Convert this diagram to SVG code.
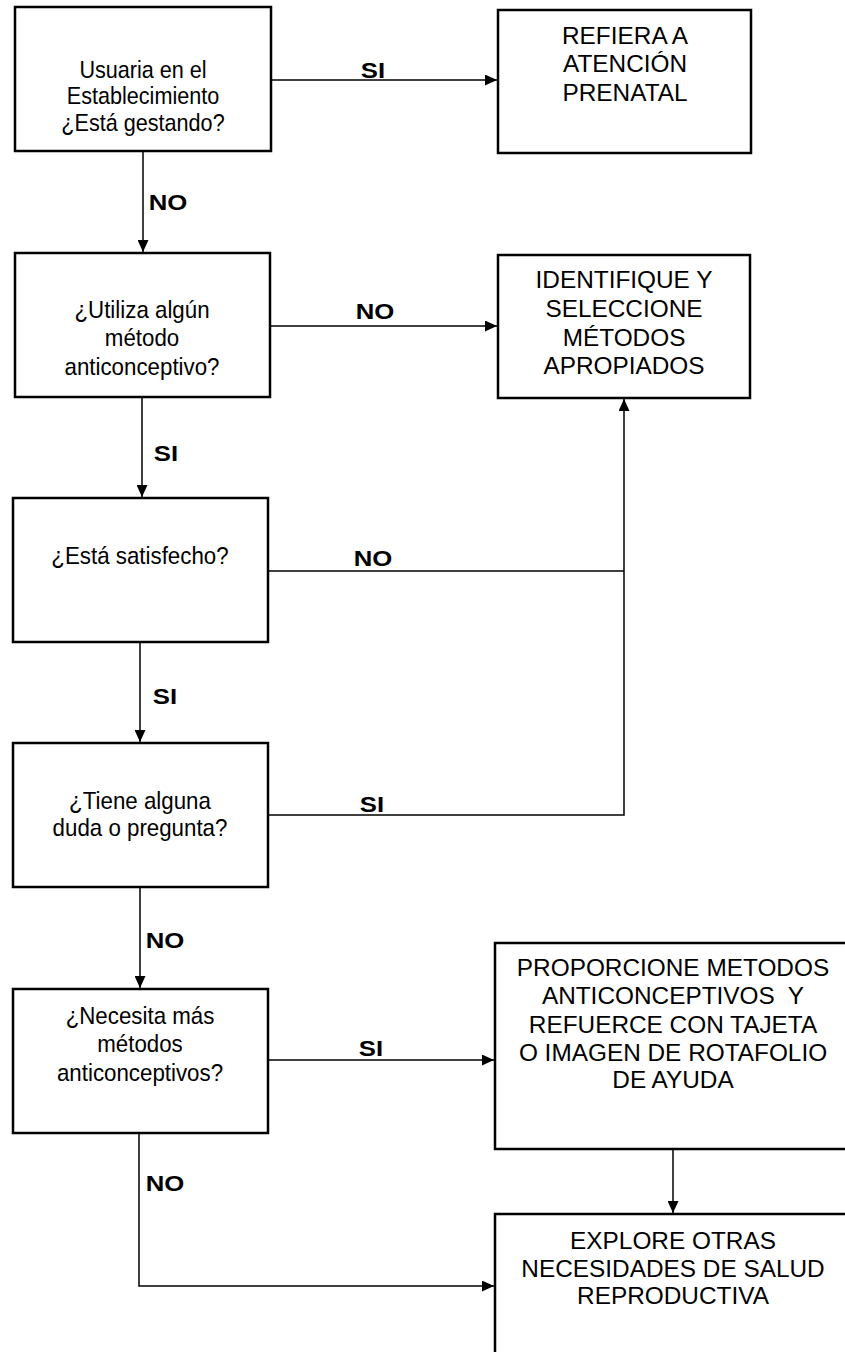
<svg xmlns="http://www.w3.org/2000/svg" width="845" height="1352" viewBox="0 0 845 1352">
<style>
.box{fill:#fff;stroke:#000;stroke-width:2.5}
.ln{fill:none;stroke:#000;stroke-width:1.5}
.t{font-family:"Liberation Sans",Arial,sans-serif;font-size:24px;fill:#000;text-anchor:middle}
.u{font-family:"Liberation Sans",Arial,sans-serif;font-size:23px;fill:#000;text-anchor:middle}
.lb{font-family:"Liberation Sans",Arial,sans-serif;font-size:23px;font-weight:bold;fill:#000;text-anchor:middle}
</style>
<defs>
<marker id="ah" markerUnits="userSpaceOnUse" markerWidth="13" markerHeight="11" refX="12" refY="5.5" orient="auto">
<path d="M0,0 L12,5.5 L0,11 z" fill="#000"/>
</marker>
</defs>
<rect width="845" height="1352" fill="#fff"/>

<g id="connectors">
<line class="ln" x1="271" y1="80" x2="497" y2="80" marker-end="url(#ah)"/>
<line class="ln" x1="143" y1="151" x2="143" y2="252" marker-end="url(#ah)"/>
<line class="ln" x1="271" y1="326" x2="497" y2="326" marker-end="url(#ah)"/>
<line class="ln" x1="142" y1="397" x2="142" y2="497" marker-end="url(#ah)"/>
<polyline class="ln" points="268,571 624,571"/>
<polyline class="ln" points="268,815 624,815 624,399" marker-end="url(#ah)"/>
<line class="ln" x1="140" y1="642" x2="140" y2="742" marker-end="url(#ah)"/>
<line class="ln" x1="140" y1="887" x2="140" y2="988" marker-end="url(#ah)"/>
<line class="ln" x1="268" y1="1060" x2="494" y2="1060" marker-end="url(#ah)"/>
<line class="ln" x1="673" y1="1149" x2="673" y2="1213" marker-end="url(#ah)"/>
<polyline class="ln" points="139,1133 139,1286 494,1286" marker-end="url(#ah)"/>
<text class="lb" transform="translate(373,0) scale(1.12,1)" x="0" y="78">SI</text>
<text class="lb" transform="translate(168,0) scale(1.12,1)" x="0" y="210">NO</text>
<text class="lb" transform="translate(375,0) scale(1.12,1)" x="0" y="319">NO</text>
<text class="lb" transform="translate(166,0) scale(1.12,1)" x="0" y="461">SI</text>
<text class="lb" transform="translate(373,0) scale(1.12,1)" x="0" y="566">NO</text>
<text class="lb" transform="translate(165,0) scale(1.12,1)" x="0" y="704">SI</text>
<text class="lb" transform="translate(372,0) scale(1.12,1)" x="0" y="812">SI</text>
<text class="lb" transform="translate(165,0) scale(1.12,1)" x="0" y="948">NO</text>
<text class="lb" transform="translate(371,0) scale(1.12,1)" x="0" y="1056">SI</text>
<text class="lb" transform="translate(165,0) scale(1.12,1)" x="0" y="1191">NO</text>
</g>

<g id="n1">
<rect class="box" x="15" y="7" width="256" height="144"/>
<text class="t" transform="translate(143,0) scale(0.9,1)"><tspan x="0" y="78">Usuaria en el</tspan><tspan x="0" y="104">Establecimiento</tspan><tspan x="0" y="131">¿Está gestando?</tspan></text>
</g>
<g id="n2">
<rect class="box" x="15" y="253" width="255" height="144"/>
<text class="t" transform="translate(142,0) scale(0.93,1)"><tspan x="0" y="318">¿Utiliza algún</tspan><tspan x="0" y="346">método</tspan><tspan x="0" y="375">anticonceptivo?</tspan></text>
</g>
<g id="n3">
<rect class="box" x="13" y="498" width="255" height="144"/>
<text class="t" transform="translate(140,0) scale(0.93,1)"><tspan x="0" y="564">¿Está satisfecho?</tspan></text>
</g>
<g id="n4">
<rect class="box" x="13" y="743" width="255" height="144"/>
<text class="t" transform="translate(140,0) scale(0.93,1)"><tspan x="0" y="809">¿Tiene alguna</tspan><tspan x="0" y="836">duda o pregunta?</tspan></text>
</g>
<g id="n5">
<rect class="box" x="13" y="989" width="255" height="144"/>
<text class="t" transform="translate(140,0) scale(0.93,1)"><tspan x="0" y="1024">¿Necesita más</tspan><tspan x="0" y="1052">métodos</tspan><tspan x="0" y="1081">anticonceptivos?</tspan></text>
</g>
<g id="r1">
<rect class="box" x="498" y="10" width="253" height="143"/>
<text class="u" transform="translate(625,0) scale(1.06,1)"><tspan x="0" y="44">REFIERA A</tspan><tspan x="0" y="72">ATENCIÓN</tspan><tspan x="0" y="101">PRENATAL</tspan></text>
</g>
<g id="r2">
<rect class="box" x="498" y="255" width="252" height="143"/>
<text class="u" transform="translate(624,0) scale(1.06,1)"><tspan x="0" y="288">IDENTIFIQUE Y</tspan><tspan x="0" y="317">SELECCIONE</tspan><tspan x="0" y="346">MÉTODOS</tspan><tspan x="0" y="374">APROPIADOS</tspan></text>
</g>
<g id="r3">
<rect class="box" x="495" y="943" width="360" height="206"/>
<text class="u" style="white-space:pre" transform="translate(673,0) scale(1.06,1)"><tspan x="0" y="976">PROPORCIONE METODOS</tspan><tspan x="0" y="1004">ANTICONCEPTIVOS  Y</tspan><tspan x="0" y="1033">REFUERCE CON TAJETA</tspan><tspan x="0" y="1061">O IMAGEN DE ROTAFOLIO</tspan><tspan x="0" y="1088">DE AYUDA</tspan></text>
</g>
<g id="r4">
<rect class="box" x="495" y="1214" width="360" height="160"/>
<text class="u" transform="translate(673,0) scale(1.06,1)"><tspan x="0" y="1249">EXPLORE OTRAS</tspan><tspan x="0" y="1277">NECESIDADES DE SALUD</tspan><tspan x="0" y="1304">REPRODUCTIVA</tspan></text>
</g>
</svg>
